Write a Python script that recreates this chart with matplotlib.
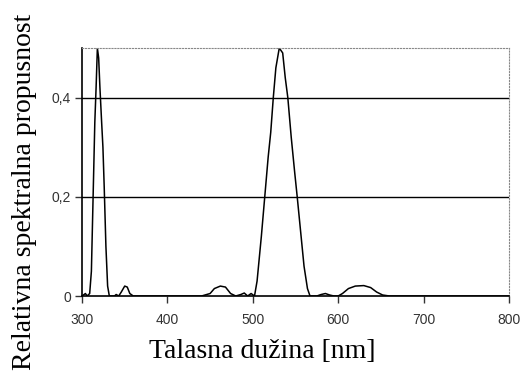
import matplotlib
matplotlib.use("Agg")
import matplotlib.pyplot as plt

# Talasna duzina [nm] i relativna propusnost (ocitano sa slike)
talas = [300, 304, 306, 309, 311, 313, 315, 316.5, 318, 319.5, 321, 323, 324.5,
         326, 328, 330, 332, 338, 340, 343, 346, 350, 353, 356, 360,
         440, 450, 455, 462, 468, 474, 480, 486, 490, 494, 498, 502,
         505, 510, 514, 518, 521, 524, 527, 531, 535, 538, 541, 545, 549,
         552, 556, 560, 564, 567, 575, 580, 585, 590, 595, 600,
         605, 612, 620, 630, 638, 645, 652, 660, 800]
propusnost = [0, 0.005, 0, 0.005, 0.05, 0.2, 0.35, 0.42, 0.5, 0.48, 0.42, 0.35, 0.30,
              0.22, 0.10, 0.02, 0, 0, 0.003, 0, 0.008, 0.02, 0.018, 0.005, 0,
              0, 0.005, 0.015, 0.02, 0.018, 0.005, 0, 0.003, 0.006, 0, 0.005, 0,
              0.03, 0.12, 0.2, 0.28, 0.33, 0.4, 0.46, 0.5, 0.49, 0.44, 0.4, 0.32, 0.25,
              0.2, 0.13, 0.06, 0.015, 0, 0, 0.003, 0.005, 0.002, 0, 0,
              0.005, 0.015, 0.02, 0.021, 0.017, 0.008, 0.002, 0, 0]

x_ticks = [300, 400, 500, 600, 700, 800]
y_ticks = [0, 0.2, 0.4]
y_labels = ["0", "0,2", "0,4"]

fig = plt.figure(figsize=(5.22, 3.71), dpi=100)
ax = fig.add_axes([82/522, 1 - 296/371, 427/522, 248/371])

ax.plot(talas, propusnost, color="black", lw=1.1)
for y in y_ticks[1:]:
    ax.axhline(y, color="black", lw=1)

ax.set_xlim(300, 800)
ax.set_ylim(0, 0.5)
ax.set_xticks(x_ticks)
ax.set_yticks(y_ticks)
ax.set_yticklabels(y_labels)
ax.tick_params(labelsize=10, colors="#333333", length=5, width=1, pad=7)
ax.tick_params(axis="y", pad=3)
for lbl in ax.get_xticklabels() + ax.get_yticklabels():
    lbl.set_family("Liberation Sans")

ax.spines["top"].set_color("#888888")
ax.spines["top"].set_linestyle(":")
ax.spines["right"].set_color("#888888")
ax.spines["right"].set_linestyle(":")
ax.spines["left"].set_linewidth(1.2)
ax.spines["bottom"].set_linewidth(1.2)

fig.text(262/522, 1 - 352/371, "Talasna dužina [nm]", fontsize=20,
         family="Liberation Serif", ha="center", va="center")
fig.text(25/522, 1 - 192/371, "Relativna spektralna propusnost", rotation=90,
         fontsize=20, family="Liberation Serif", va="center", ha="center")

fig.savefig("out.png", dpi=100)
